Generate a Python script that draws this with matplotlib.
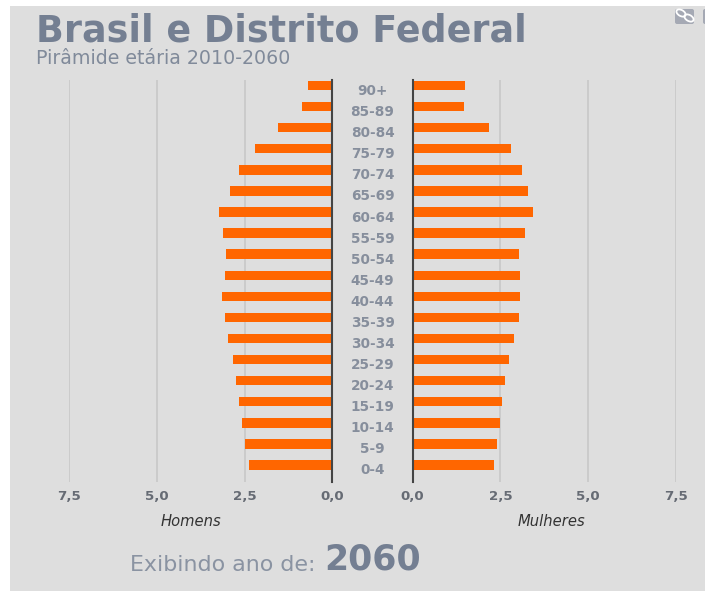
import matplotlib
matplotlib.use('Agg')
import matplotlib.pyplot as plt
from matplotlib.patches import Rectangle, FancyBboxPatch, Ellipse

plt.rcParams['font.family'] = ['DejaVu Sans']

faixas = ['90+', '85-89', '80-84', '75-79', '70-74', '65-69', '60-64', '55-59', '50-54', '45-49',
          '40-44', '35-39', '30-34', '25-29', '20-24', '15-19', '10-14', '5-9', '0-4']
homens = [0.69, 0.87, 1.54, 2.21, 2.66, 2.93, 3.24, 3.11, 3.03, 3.06,
          3.14, 3.06, 2.98, 2.83, 2.75, 2.66, 2.58, 2.48, 2.39]
mulheres = [1.50, 1.46, 2.17, 2.80, 3.11, 3.29, 3.42, 3.20, 3.03, 3.06,
            3.06, 3.03, 2.89, 2.75, 2.62, 2.54, 2.49, 2.41, 2.32]
ticks = [0, 2.5, 5, 7.5]
tick_labels = ['0,0', '2,5', '5,0', '7,5']

W, H = 705, 591
CINZA = '#dedede'
AZUL = '#747f92'
LARANJA = '#ff6600'

fig = plt.figure(figsize=(W / 100, H / 100), dpi=100, facecolor='white')


def px_axes(x0, y0, x1, y1):
    # pixel box, y measured from the top
    return fig.add_axes([x0 / W, 1 - y1 / H, (x1 - x0) / W, (y1 - y0) / H])


# gray panel
fig.patches.append(Rectangle((10 / W, 0), 1 - 10 / W, 1 - 6 / H, transform=fig.transFigure,
                             facecolor=CINZA, edgecolor='none', zorder=-5))

y = list(range(len(faixas)))
top, bottom = 79.5, 481.5
step = (465 - 85.5) / 18
ylim = ((bottom - 85.5) / step, -(85.5 - top) / step)

esq = px_axes(69, top, 332.5, bottom)
dir_ = px_axes(412.5, top, 676, bottom)

for ax, valores in ((esq, homens), (dir_, mulheres)):
    ax.patch.set_alpha(0)
    ax.barh(y, valores, height=9.4 / step, color=LARANJA, zorder=3)
    ax.set_ylim(ylim)
    ax.set_yticks([])
    ax.set_xticks(ticks)
    ax.set_xticklabels(tick_labels, fontsize=9.6, color='#666b74', fontweight='bold')
    ax.tick_params(axis='x', length=0, pad=6)
    ax.grid(axis='x', color='#c8c8c8', lw=1.2, zorder=1)
    ax.set_axisbelow(True)
    for s in ax.spines.values():
        s.set_visible(False)

esq.set_xlim(7.5, 0)
dir_.set_xlim(0, 7.5)
esq.axvline(0, color='#444444', lw=1.5, zorder=4, clip_on=False)
dir_.axvline(0, color='#444444', lw=1.5, zorder=4, clip_on=False)

# age labels between the two sides
for i, faixa in enumerate(faixas):
    fig.text(372.5 / W, 1 - (91 + i * step) / H, faixa, ha='center', va='center',
             fontsize=9.8, color='#868e9c', fontweight='bold')

fig.text(36 / W, 1 - 41.5 / H, 'Brasil e Distrito Federal', fontsize=26.3, fontweight='bold',
         color=AZUL, ha='left', va='baseline')
fig.text(36 / W, 1 - 64 / H, 'Pirâmide etária 2010-2060', fontsize=13.7, color='#808a9a',
         ha='left', va='baseline')
fig.text(161 / W, 1 - 526 / H, 'Homens', fontsize=10.6, style='italic', color='#333333',
         ha='left', va='baseline')
fig.text(518 / W, 1 - 526 / H, 'Mulheres', fontsize=10.6, style='italic', color='#333333',
         ha='left', va='baseline')
fig.text(130 / W, 1 - 571 / H, 'Exibindo ano de:', fontsize=15.9, color='#8a93a2',
         ha='left', va='baseline')
fig.text(324 / W, 1 - 570 / H, '2060', fontsize=25, fontweight='bold', color=AZUL,
         ha='left', va='baseline')

# share buttons in the corner
for x0 in (675, 703):
    fig.patches.append(FancyBboxPatch((x0 + 2, H - 22), 15, 11,
                                      boxstyle='round,pad=2,rounding_size=2',
                                      transform=None, facecolor='#a5a9b4', edgecolor='none', zorder=2))
for cx, cy in ((681, 13), (689, 18)):
    fig.patches.append(Ellipse((cx, H - cy), 10, 6, angle=-30, transform=None,
                               facecolor='none', edgecolor='white', lw=1.3, zorder=3))

fig.savefig('out.png', dpi=100, facecolor='white')
